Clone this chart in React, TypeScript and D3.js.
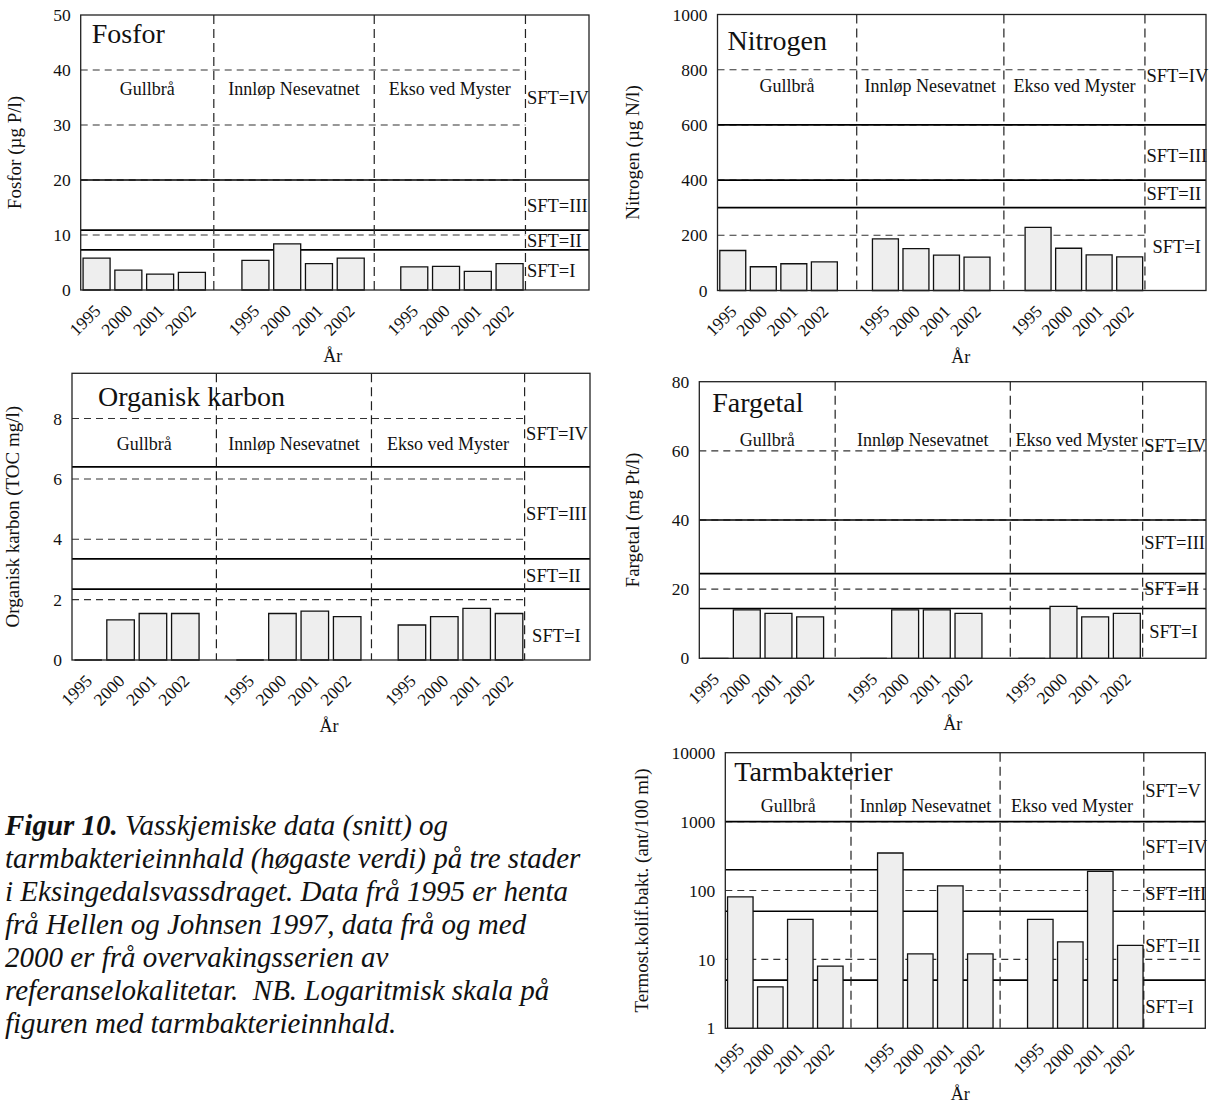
import React from 'react';
import * as d3 from 'd3';

// categories
const years = ['1995', '2000', '2001', '2002'];
const sites = ['Gullbrå', 'Innløp Nesevatnet', 'Ekso ved Myster'];
const classes = ['SFT=I', 'SFT=II', 'SFT=III', 'SFT=IV', 'SFT=V'];

// values per site (rows) and year (columns)
const fosfor = [[5.8, 3.6, 2.9, 3.2], [5.4, 8.4, 4.8, 5.8], [4.2, 4.3, 3.4, 4.8]];
const nitrogen = [[145, 86, 97, 104], [187, 152, 128, 121], [229, 153, 129, 122]];
const karbon = [[0, 1.33, 1.54, 1.54], [0, 1.54, 1.62, 1.44], [1.16, 1.44, 1.71, 1.54]];
const fargetal = [[0, 14, 13, 12], [0, 14, 14, 13], [0, 15, 12, 13]];
const tarm = [[81, 4, 38, 8], [350, 12, 117, 12], [38, 18, 190, 16]];

// SFT class limits (solid lines)
const fosforLimits = [7.3, 10.9, 20];
const nitrogenLimits = [300, 400, 600];
const karbonLimits = [2.35, 3.35, 6.4];
const fargetalLimits = [14.4, 24.5, 40];
const tarmLimits = [5, 50, 200, 1000];

// axis ticks
const fosforTicks = [0, 10, 20, 30, 40, 50];
const nitrogenTicks = [0, 200, 400, 600, 800, 1000];
const karbonTicks = [0, 2, 4, 6, 8];
const fargetalTicks = [0, 20, 40, 60, 80];
const tarmTicks = [1, 10, 100, 1000, 10000];

const caption = [
  'tarmbakterieinnhald (høgaste verdi) på tre stader',
  'i Eksingedalsvassdraget. Data frå 1995 er henta',
  'frå Hellen og Johnsen 1997, data frå og med',
  '2000 er frå overvakingsserien av',
  'referanselokalitetar.  NB. Logaritmisk skala på',
  'figuren med tarmbakterieinnhald.',
];

const FONT = '"Liberation Serif", "Times New Roman", serif';

function Panel({ c }: { c: any }) {
  const { left, right, top, bottom } = c;
  const xBand = d3.scaleBand<number>().domain(d3.range(16))
    .range([left, right]).paddingInner(0.15).paddingOuter(0.075);
  const xSlot = d3.scaleLinear().domain([0, 16]).range([left, right]);
  const y: any = c.log
    ? d3.scaleLog().domain([1, c.max]).range([bottom, top])
    : d3.scaleLinear().domain([0, c.max]).range([bottom, top]);
  const base = y(c.log ? 1 : 0);

  const bars = c.values.flatMap((row: number[], g: number) =>
    row.map((v, j) => ({ slot: g * 5 + j, v, year: years[j] })));
  const gridEnd = c.gridFull ? right : xSlot(c.dividers[2]);
  const grid = c.ticks.filter((t: number) => t !== c.ticks[0] && t !== c.max);
  const bounds = [0, ...c.dividers];

  return (
    <g fontFamily={FONT} fill="#111">
      {grid.map((t: number) => (
        <line key={'g' + t} x1={left} x2={gridEnd} y1={y(t)} y2={y(t)}
          stroke="#333" strokeWidth={1.1} strokeDasharray="7 5" />
      ))}
      {c.limits.map((t: number) => (
        <line key={'l' + t} x1={left} x2={right} y1={y(t)} y2={y(t)}
          stroke="#000" strokeWidth={1.7} />
      ))}
      {c.dividers.map((d: number) => (
        <line key={'d' + d} x1={xSlot(d)} x2={xSlot(d)} y1={top} y2={bottom}
          stroke="#222" strokeWidth={1.2} strokeDasharray="9 5" />
      ))}
      {bars.map((b: any) => {
        const x = xBand(b.slot) as number;
        const w = xBand.bandwidth();
        const yt = y(b.v);
        return (
          <path key={'b' + b.slot} d={`M${x},${base}V${yt}H${x + w}V${base}Z`}
            fill="#eeeeee" stroke="#111" strokeWidth={1.3} />
        );
      })}
      <rect x={left} y={top} width={right - left} height={bottom - top}
        fill="none" stroke="#222" strokeWidth={1.3} />
      {c.ticks.map((t: number) => (
        <text key={'t' + t} x={left - 10} y={y(t)} dy="0.35em" textAnchor="end" fontSize={17.5}>
          {t}
        </text>
      ))}
      {bars.map((b: any) => {
        const cx = (xBand(b.slot) as number) + xBand.bandwidth() / 2 + 5;
        return (
          <text key={'x' + b.slot} transform={`translate(${cx},${bottom + 22}) rotate(-45)`}
            textAnchor="end" fontSize={17.5}>
            {b.year}
          </text>
        );
      })}
      <text x={left + c.titleDx} y={top + c.titleDy} fontSize={28}>{c.title}</text>
      {sites.map((s, i) => (
        <text key={s} x={xSlot((bounds[i] + bounds[i + 1]) / 2)} y={y(c.siteY)}
          textAnchor="middle" fontSize={18}>
          {s}
        </text>
      ))}
      {c.sftY.map((v: number, i: number) => (
        <text key={'s' + i} x={xSlot(c.dividers[2]) + 1.5 + (i === 0 ? c.sftDx : 0)} y={y(v)}
          fontSize={18.5}>
          {classes[i]}
        </text>
      ))}
      <text transform={`translate(${c.yTitleX},${(top + bottom) / 2}) rotate(-90)`}
        textAnchor="middle" fontSize={19}>
        {c.yTitle}
      </text>
      <text x={(left + right) / 2 + c.arDx} y={bottom + 72} textAnchor="middle" fontSize={18}>År</text>
    </g>
  );
}

const panels = [
  {
    title: 'Fosfor', yTitle: 'Fosfor (µg P/l)', values: fosfor, limits: fosforLimits, ticks: fosforTicks,
    max: 50, left: 80.7, right: 589, top: 15, bottom: 290, dividers: [4.19, 9.24, 14],
    titleDx: 11, titleDy: 28, siteY: 35.5, sftY: [2.4, 7.8, 14.1, 33.8], sftDx: 0,
    yTitleX: 21, arDx: -2, gridFull: false,
  },
  {
    title: 'Nitrogen', yTitle: 'Nitrogen (µg N/l)', values: nitrogen, limits: nitrogenLimits, ticks: nitrogenTicks,
    max: 1000, left: 717.5, right: 1206, top: 14.5, bottom: 290.5, dividers: [4.56, 9.38, 14],
    titleDx: 10, titleDy: 35, siteY: 719, sftY: [135, 328, 467, 756], sftDx: 6,
    yTitleX: 639, arDx: -1, gridFull: false,
  },
  {
    title: 'Organisk karbon', yTitle: 'Organisk karbon (TOC mg/l)', values: karbon, limits: karbonLimits,
    ticks: karbonTicks, max: 9.5, left: 72, right: 590, top: 373.3, bottom: 660, dividers: [4.46, 9.25, 13.98],
    titleDx: 26, titleDy: 33, siteY: 6.96, sftY: [0.61, 2.59, 4.64, 7.29], sftDx: 6,
    yTitleX: 19, arDx: -2, gridFull: false,
  },
  {
    title: 'Fargetal', yTitle: 'Fargetal (mg Pt/l)', values: fargetal, limits: fargetalLimits, ticks: fargetalTicks,
    max: 80, left: 699.3, right: 1206, top: 381.7, bottom: 658.3, dividers: [4.29, 9.82, 14],
    titleDx: 13, titleDy: 30, siteY: 61.3, sftY: [5.8, 18.3, 31.5, 59.75], sftDx: 5,
    yTitleX: 639, arDx: 0, gridFull: true,
  },
  {
    title: 'Tarmbakterier', yTitle: 'Termost.kolif.bakt. (ant/100 ml)', values: tarm, limits: tarmLimits,
    ticks: tarmTicks, max: 10000, log: true, left: 725.3, right: 1205.3, top: 752.7, bottom: 1028.3,
    dividers: [4.19, 9.16, 13.95], titleDx: 9, titleDy: 28, siteY: 1393,
    sftY: [1.67, 12.9, 73, 347, 2275], sftDx: 0, yTitleX: 648, arDx: -5, gridFull: true,
  },
];

export default function App() {
  return (
    <svg width={1211} height={1104} style={{ position: 'absolute', left: 0, top: 0, background: '#fff' }}>
      {panels.map((p) => <Panel key={p.title} c={p} />)}
      <g fontFamily={FONT} fontStyle="italic" fontSize={29} fill="#111">
        <text x={5} y={835}>
          <tspan fontWeight="bold">Figur 10.</tspan> Vasskjemiske data (snitt) og
        </text>
        {caption.map((line, i) => (
          <text key={i} x={5} y={835 + (i + 1) * 33} xmlSpace="preserve">{line}</text>
        ))}
      </g>
    </svg>
  );
}
